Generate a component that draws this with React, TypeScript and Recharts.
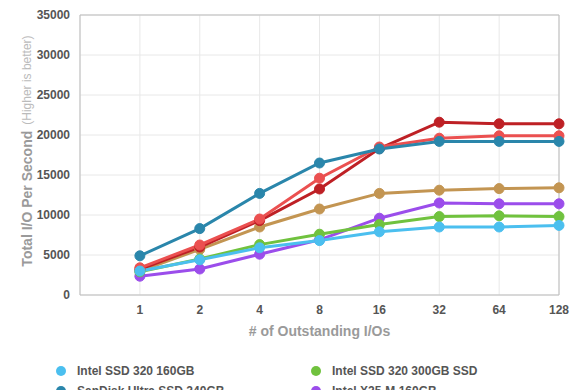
import { CartesianGrid, Line, LineChart, ReferenceLine, XAxis, YAxis } from "recharts";

const ioLabels = ["1", "2", "4", "8", "16", "32", "64", "128"];

const intel320_160 = [3000, 4400, 5900, 6800, 7900, 8500, 8500, 8700];
const intel320_300 = [2900, 4500, 6300, 7600, 8800, 9800, 9900, 9800];
const sandiskUltra = [4900, 8300, 12700, 16500, 18250, 19200, 19200, 19200];
const intelX25M = [2350, 3250, 5100, 6900, 9600, 11500, 11400, 11400];
const tanSeries = [3000, 5700, 8500, 10750, 12700, 13100, 13300, 13400];
const redSeries = [3400, 6250, 9500, 14600, 18500, 19600, 19900, 19900];
const darkRedSeries = [3200, 6000, 9300, 13250, 18300, 21600, 21400, 21400];

const yTicks = [0, 5000, 10000, 15000, 20000, 25000, 30000, 35000];

// legend order (two columns, row by row)
const series = [
  { key: "s0", name: "Intel SSD 320 160GB", color: "#4bbfef", values: intel320_160 },
  { key: "s1", name: "Intel SSD 320 300GB SSD", color: "#70c23e", values: intel320_300 },
  { key: "s2", name: "SanDisk Ultra SSD 240GB", color: "#2a86ab", values: sandiskUltra },
  { key: "s3", name: "Intel X25-M 160GB", color: "#9b4deb", values: intelX25M },
  { key: "s4", name: "Intel SSD 510 250GB", color: "#c39552", values: tanSeries },
  { key: "s5", name: "OCZ Vertex 3 240GB", color: "#eb5050", values: redSeries },
  { key: "s6", name: "OCZ Vertex 3 MAX IOPS 240GB", color: "#be2025", values: darkRedSeries },
];

// draw order, bottom to top
const drawOrder = ["s4", "s6", "s5", "s3", "s1", "s0", "s2"];

const data = ioLabels.map((label, i) => {
  const row: Record<string, number | string> = { pos: i, label };
  series.forEach((s) => {
    row[s.key] = s.values[i];
  });
  return row;
});

const font = "'Liberation Sans', Arial, Helvetica, sans-serif";

function YLabel(props: any) {
  const vb = props.viewBox || {};
  const cx = 27;
  const cy = vb.y + vb.height / 2 - 4;
  return (
    <text
      x={cx}
      y={cy}
      transform={`rotate(-90, ${cx}, ${cy})`}
      textAnchor="middle"
      dominantBaseline="central"
      fontFamily={font}
    >
      <tspan fontSize={14} fontWeight="bold" fill="#9a9a9a">Total I/O Per Second</tspan>
      <tspan fontSize={12} fill="#bbbbbb" dx={6}>(Higher is better)</tspan>
    </text>
  );
}

function LegendBox() {
  return (
    <div
      style={{
        position: "absolute",
        left: 56,
        top: 364,
        display: "grid",
        gridTemplateColumns: "255px 255px",
        rowGap: 6,
        fontFamily: font,
        fontSize: 12,
        fontWeight: "bold",
        color: "#555",
      }}
    >
      {series.map((s) => (
        <div key={s.key} style={{ display: "flex", alignItems: "center", height: 14 }}>
          <span
            style={{
              width: 10,
              height: 10,
              borderRadius: 5,
              background: s.color,
              display: "inline-block",
              marginRight: 11,
            }}
          />
          {s.name}
        </div>
      ))}
    </div>
  );
}

export default function App() {
  return (
    <div style={{ position: "absolute", left: 0, top: 0, width: 580, height: 440, background: "#fff" }}>
      <LineChart
        width={580}
        height={440}
        data={data}
        margin={{ top: 15, right: 21, left: 0, bottom: 0 }}
      >
        <CartesianGrid stroke="#e8e8e8" strokeWidth={1} />
        <XAxis
          dataKey="pos"
          type="number"
          domain={[-1, 7]}
          ticks={[0, 1, 2, 3, 4, 5, 6, 7]}
          tickFormatter={(v: number) => ioLabels[v]}
          tickLine={false}
          tickSize={0}
          tickMargin={10}
          axisLine={{ stroke: "#bdbdbd" }}
          height={145}
          tick={{ fill: "#555", fontSize: 12, fontWeight: "bold", fontFamily: font }}
          label={{
            value: "# of Outstanding I/Os",
            position: "insideTop",
            offset: 31,
            fill: "#9a9a9a",
            fontSize: 14,
            fontWeight: "bold",
            fontFamily: font,
          }}
        />
        <YAxis
          domain={[0, 35000]}
          ticks={yTicks}
          interval={0}
          width={80}
          tickLine={false}
          tickSize={0}
          tickMargin={10}
          axisLine={{ stroke: "#bdbdbd" }}
          tick={{ fill: "#555", fontSize: 12, fontWeight: "bold", fontFamily: font }}
          label={<YLabel />}
        />
        <ReferenceLine x={7} stroke="#bdbdbd" />
        <ReferenceLine y={35000} stroke="#bdbdbd" />
        {drawOrder.map((k) => {
          const s = series.find((x) => x.key === k)!;
          return (
            <Line
              key={k}
              dataKey={k}
              name={s.name}
              stroke={s.color}
              strokeWidth={3}
              dot={{ r: 5, fill: s.color, stroke: s.color, strokeWidth: 1 }}
              isAnimationActive={false}
            />
          );
        })}
      </LineChart>
      <LegendBox />
    </div>
  );
}
